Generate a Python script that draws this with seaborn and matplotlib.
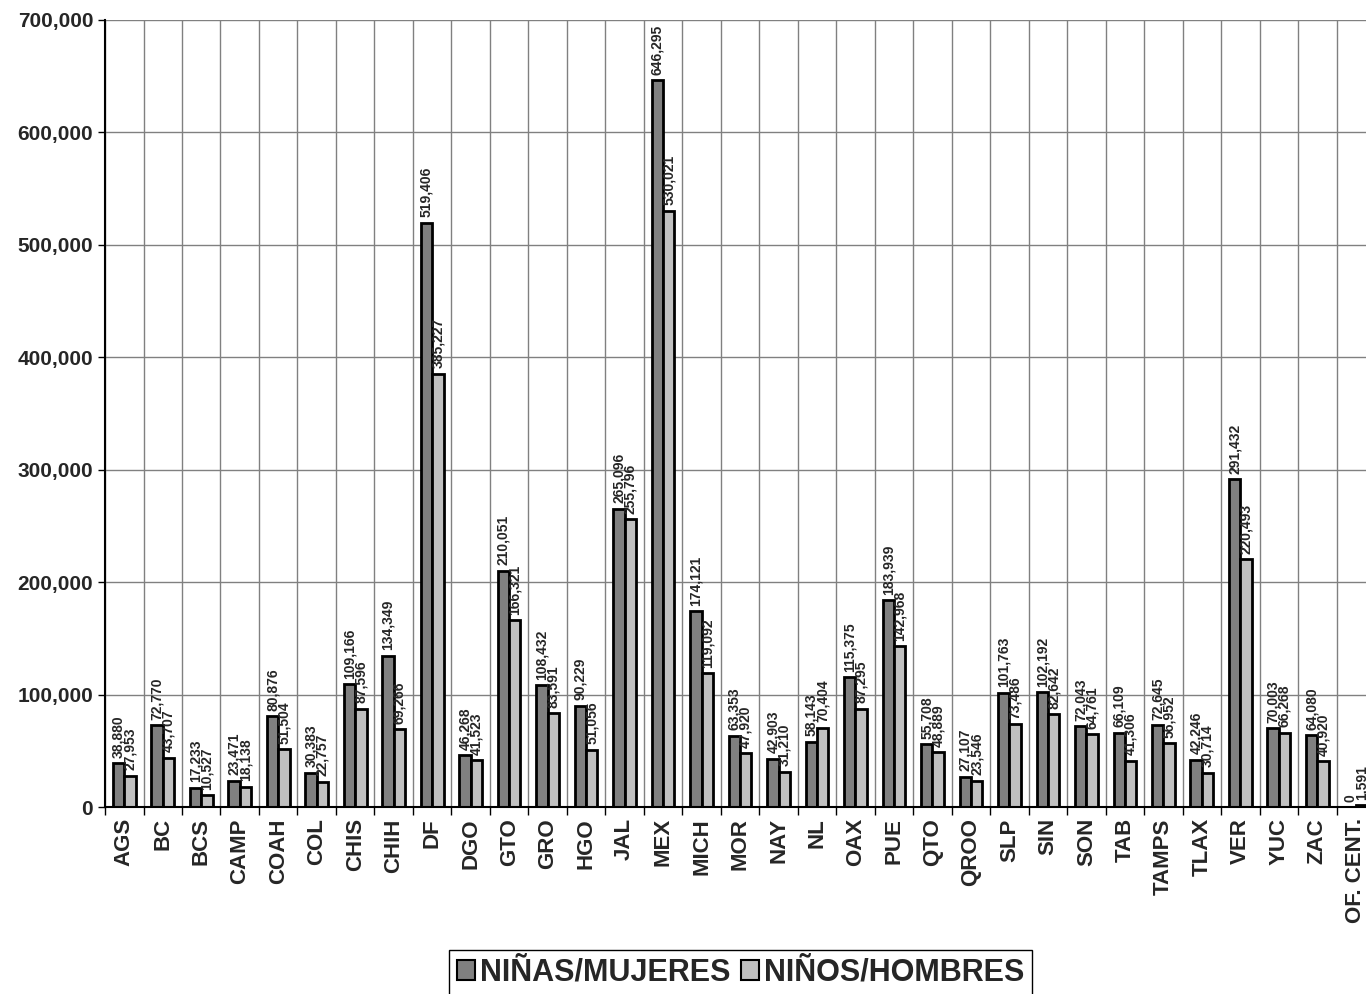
import seaborn as sns
import matplotlib.pyplot as plt
import pandas as pd
from matplotlib.patches import Patch
from matplotlib.ticker import FuncFormatter, MultipleLocator, FixedLocator

estados = ['AGS', 'BC', 'BCS', 'CAMP', 'COAH', 'COL', 'CHIS', 'CHIH', 'DF', 'DGO',
           'GTO', 'GRO', 'HGO', 'JAL', 'MEX', 'MICH', 'MOR', 'NAY', 'NL', 'OAX',
           'PUE', 'QTO', 'QROO', 'SLP', 'SIN', 'SON', 'TAB', 'TAMPS', 'TLAX', 'VER',
           'YUC', 'ZAC', 'OF. CENT.']
mujeres = [38880, 72770, 17233, 23471, 80876, 30383, 109166, 134349, 519406, 46268,
           210051, 108432, 90229, 265096, 646295, 174121, 63353, 42903, 58143, 115375,
           183939, 55708, 27107, 101763, 102192, 72043, 66109, 72645, 42246, 291432,
           70003, 64080, 0]
hombres = [27953, 43707, 10527, 18138, 51504, 22757, 87596, 69266, 385227, 41523,
           166321, 83591, 51056, 255796, 530021, 119092, 47920, 31210, 70404, 87295,
           142968, 48889, 23546, 73486, 82642, 64761, 41306, 56952, 30714, 220493,
           66268, 40920, 1591]
series = ['NIÑAS/MUJERES', 'NIÑOS/HOMBRES']
colores = ['#808080', '#C0C0C0']

df = pd.DataFrame({
    'estado': estados * 2,
    'valor': mujeres + hombres,
    'serie': [series[0]] * len(estados) + [series[1]] * len(estados),
})

sns.set_style('white')
plt.rcParams['font.family'] = ['Liberation Sans', 'DejaVu Sans']
plt.rcParams['font.weight'] = 'bold'

fig = plt.figure(figsize=(13.66, 9.94), dpi=100)
ax = fig.add_axes([0.0769, 0.188, 0.9297, 0.792])

sns.barplot(data=df, x='estado', y='valor', hue='serie', palette=colores,
            width=0.59, edgecolor='black', linewidth=2, legend=False, ax=ax,
            saturation=1)

for cont in ax.containers:
    ax.bar_label(cont, labels=[f'{v:,.0f}' for v in cont.datavalues],
                 rotation=90, padding=4, fontsize=10, fontweight='bold')

n = len(estados)
ax.set_xlim(-0.5, n - 0.5)
ax.set_ylim(0, 700000)
ax.yaxis.set_major_locator(MultipleLocator(100000))
ax.yaxis.set_major_formatter(FuncFormatter(lambda v, p: f'{v:,.0f}'))
ax.xaxis.set_minor_locator(FixedLocator([i + 0.5 for i in range(-1, n)]))
ax.grid(axis='y', which='major', color='#808080', linewidth=1)
ax.grid(axis='x', which='minor', color='#808080', linewidth=1)
ax.grid(axis='x', which='major', visible=False)
ax.set_axisbelow(True)

ax.tick_params(axis='x', which='major', length=0, labelrotation=90, labelsize=16, pad=8)
ax.tick_params(axis='x', which='minor', length=6, width=1, color='black', bottom=True)
ax.tick_params(axis='y', length=5, width=1, color='black', left=True, labelsize=15)
for lab in ax.get_xticklabels() + ax.get_yticklabels():
    lab.set_fontweight('bold')

ax.set_xlabel('')
ax.set_ylabel('')
for s in ['top', 'right']:
    ax.spines[s].set_visible(False)
ax.spines['left'].set_color('black')
ax.spines['left'].set_linewidth(1.5)
ax.spines['bottom'].set_color('black')
ax.spines['bottom'].set_linewidth(1.5)

handles = [Patch(facecolor=c, edgecolor='black', linewidth=1.5) for c in colores]
leg = fig.legend(handles, series, loc='upper center', bbox_to_anchor=(0.542, 0.044),
                 ncol=2, fancybox=False, framealpha=1, edgecolor='black',
                 handlelength=0.6, handleheight=0.6, handletextpad=0.15,
                 columnspacing=0.35, borderpad=0.25, borderaxespad=0,
                 prop={'size': 22, 'weight': 'bold'})
leg.get_frame().set_linewidth(1)

fig.savefig('out.png', dpi=100)
